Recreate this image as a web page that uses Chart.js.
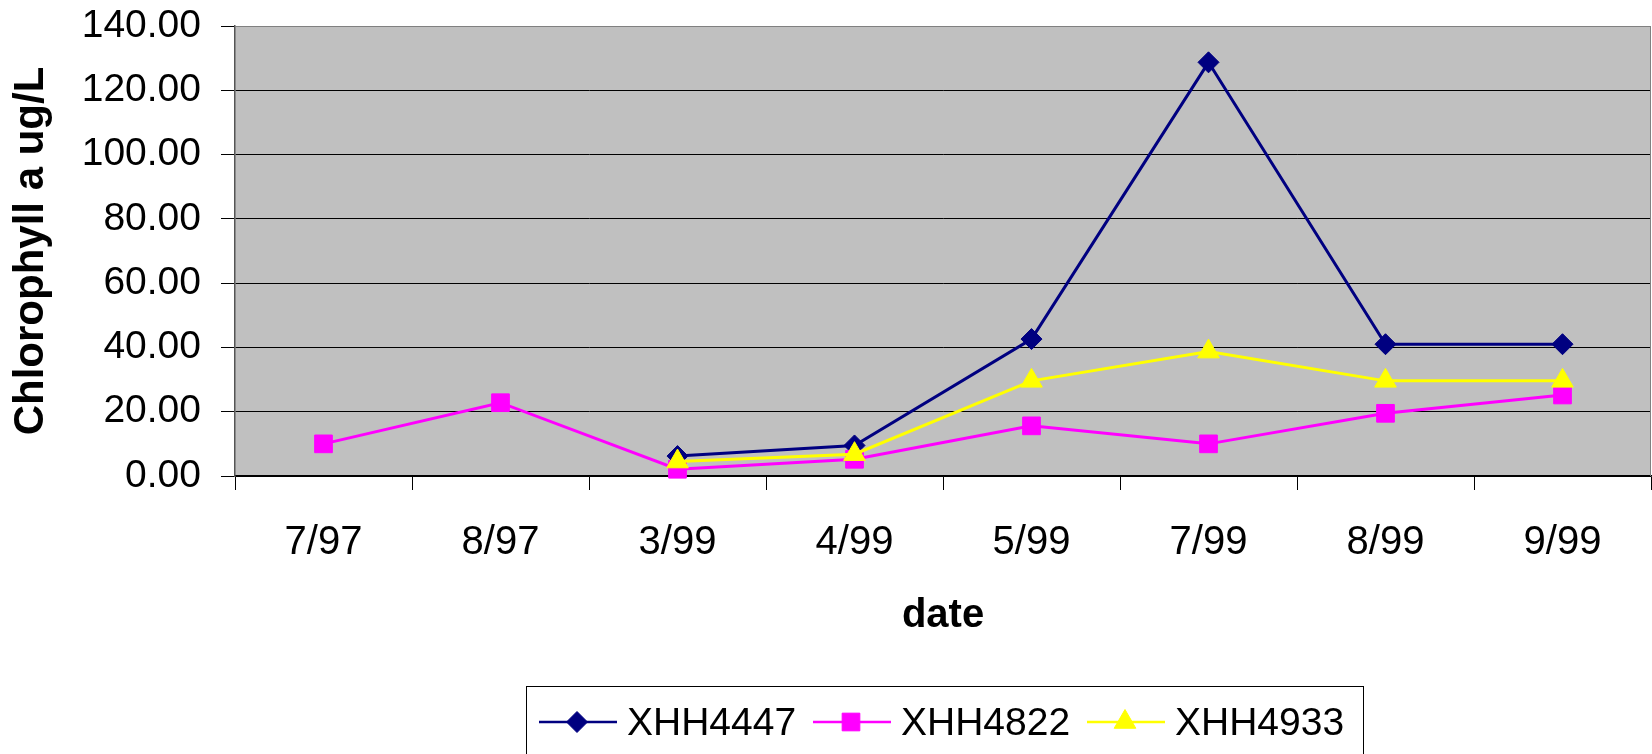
<!DOCTYPE html>
<html>
<head>
<meta charset="utf-8">
<script src="https://cdn.jsdelivr.net/npm/chart.js@4/dist/chart.umd.min.js"></script>
<style>
  html, body { margin: 0; padding: 0; background: #fff; overflow: hidden; }
  #wrap { width: 1652px; height: 754px; overflow: hidden; }
  canvas { display: block; }
</style>
</head>
<body>
<div id="wrap"><canvas id="c" width="1652" height="754"></canvas></div>
<script>
const categories = ['7/97', '8/97', '3/99', '4/99', '5/99', '7/99', '8/99', '9/99'];
const seriesNames = ['XHH4447', 'XHH4822', 'XHH4933'];
const xhh4447 = [null, null, 6.2, 9.5, 42.6, 128.7, 41.0, 41.0];
const xhh4822 = [10.0, 22.8, 2.1, 5.2, 15.6, 10.0, 19.5, 25.2];
const xhh4933 = [null, null, 4.5, 6.8, 29.6, 38.7, 29.6, 29.6];
const yTicks = [0, 20, 40, 60, 80, 100, 120, 140];
const yTitle = 'Chlorophyll a ug/L';
const xTitle = 'date';

const FONT = '"Liberation Sans", Arial, sans-serif';

const styles = [
  { color: '#000080', pointStyle: 'rectRot', radius: 10.5 },
  { color: '#FF00FF', pointStyle: 'rect', radius: 12.5 },
  { color: '#FFFF00', pointStyle: 'triangle', radius: 12.5 }
];
const seriesData = [xhh4447, xhh4822, xhh4933];

const datasets = seriesData.map((d, i) => ({
  label: seriesNames[i],
  data: d,
  borderColor: styles[i].color,
  backgroundColor: styles[i].color,
  pointBackgroundColor: styles[i].color,
  pointBorderColor: styles[i].color,
  pointBorderWidth: 1,
  pointStyle: styles[i].pointStyle,
  pointRadius: styles[i].radius,
  pointHoverRadius: styles[i].radius,
  borderWidth: 3,
  tension: 0,
  spanGaps: false,
  clip: false,
  order: 3 - i
}));

const plotBg = {
  id: 'plotBg',
  beforeDraw(chart) {
    const a = chart.chartArea, ctx = chart.ctx;
    ctx.save();
    ctx.fillStyle = '#C0C0C0';
    ctx.fillRect(a.left, a.top, a.right - a.left, a.bottom - a.top);
    ctx.restore();
  },
  afterDraw(chart) {
    const a = chart.chartArea, ctx = chart.ctx;
    ctx.save();
    ctx.strokeStyle = '#808080';
    ctx.lineWidth = 1;
    ctx.beginPath();
    ctx.moveTo(a.left, a.top + 0.5);
    ctx.lineTo(a.right - 0.5, a.top + 0.5);
    ctx.lineTo(a.right - 0.5, a.bottom);
    ctx.stroke();
    ctx.restore();
  }
};

const customLegend = {
  id: 'customLegend',
  afterDraw(chart) {
    const ctx = chart.ctx;
    ctx.save();
    ctx.strokeStyle = '#000';
    ctx.lineWidth = 1;
    ctx.strokeRect(526.5, 686.5, 837, 120);
    chart.data.datasets.forEach((ds, i) => {
      const x0 = 539 + i * 274;
      const y = 722;
      ctx.strokeStyle = ds.borderColor;
      ctx.lineWidth = 2.5;
      ctx.beginPath();
      ctx.moveTo(x0, y);
      ctx.lineTo(x0 + 78, y);
      ctx.stroke();
      ctx.fillStyle = ds.pointBackgroundColor;
      ctx.strokeStyle = ds.pointBorderColor;
      ctx.lineWidth = 1;
      Chart.helpers.drawPoint(ctx, { pointStyle: ds.pointStyle, radius: ds.pointRadius, rotation: 0, borderWidth: 1 }, x0 + 38, y);
      ctx.fillStyle = '#000';
      ctx.font = '39px ' + FONT;
      ctx.textBaseline = 'alphabetic';
      ctx.textAlign = 'left';
      ctx.fillText(ds.label, x0 + 88, 735);
    });
    ctx.restore();
  }
};

new Chart(document.getElementById('c'), {
  type: 'line',
  data: { labels: categories, datasets },
  plugins: [plotBg, customLegend],
  options: {
    responsive: false,
    animation: false,
    events: [],
    layout: { autoPadding: false, padding: { left: 0, top: 26, right: 1, bottom: 114 } },
    plugins: { legend: { display: false }, tooltip: { enabled: false } },
    scales: {
      x: {
        type: 'category',
        offset: true,
        afterFit(scale) {
          scale.height = 164;
          scale.paddingLeft = 0; scale.paddingRight = 0;
          scale.paddingTop = 0; scale.paddingBottom = 0;
        },
        grid: {
          offset: true,
          drawOnChartArea: false,
          drawTicks: true,
          tickLength: 14,
          tickColor: '#000',
          color: '#000'
        },
        border: { color: '#000', width: 1.5 },
        ticks: {
          color: '#000',
          font: { family: FONT, size: 40 },
          padding: 29,
          maxRotation: 0,
          autoSkip: false
        },
        title: {
          display: true,
          text: xTitle,
          color: '#000',
          font: { family: FONT, size: 40, weight: 'bold' },
          padding: { top: 0, bottom: 0 }
        }
      },
      y: {
        min: 0,
        max: 140,
        afterFit(scale) {
          scale.width = 235;
          scale.paddingTop = 0; scale.paddingBottom = 0;
          scale.paddingLeft = 0; scale.paddingRight = 0;
        },
        afterBuildTicks(scale) { scale.ticks = yTicks.map(v => ({ value: v })); },
        grid: {
          color: (c) => (c.tick && c.tick.value === 140 ? '#808080' : '#000'),
          lineWidth: 1,
          drawTicks: true,
          tickLength: 14,
          tickColor: '#000'
        },
        border: { color: '#555', width: 1.5 },
        ticks: {
          color: '#000',
          font: { family: FONT, size: 39 },
          padding: 20,
          callback: (v) => Number(v).toFixed(2)
        },
        title: {
          display: true,
          text: yTitle,
          color: '#000',
          font: { family: FONT, size: 42, weight: 'bold' },
          padding: { top: 6, bottom: 0 }
        }
      }
    }
  }
});
</script>
</body>
</html>
